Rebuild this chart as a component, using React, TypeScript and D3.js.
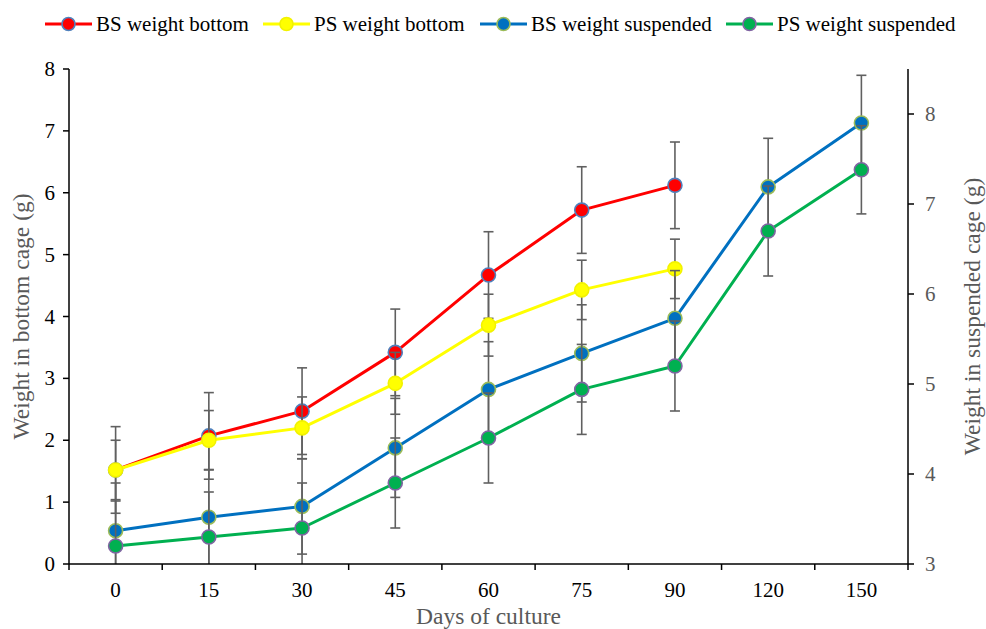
import React from "react";
import * as d3 from "d3";

const categories = ["0", "15", "30", "45", "60", "75", "90", "120", "150"];
const bsBottom = [1.52, 2.07, 2.47, 3.42, 4.67, 5.72, 6.12];
const psBottom = [1.52, 2.0, 2.2, 2.92, 3.86, 4.43, 4.77];
const bsSuspended = [3.37, 3.52, 3.64, 4.29, 4.94, 5.34, 5.73, 7.19, 7.9];
const psSuspended = [3.2, 3.3, 3.4, 3.9, 4.4, 4.94, 5.2, 6.7, 7.38];
const bsBottomErr = [0.7, 0.7, 0.7, 0.7, 0.7, 0.7, 0.7];
const psBottomErr = [0.48, 0.48, 0.5, 0.5, 0.5, 0.48, 0.48];
const bsSuspendedErr = [0.53, 0.53, 0.53, 0.55, 0.53, 0.54, 0.53, 0.54, 0.53];
const psSuspendedErr = [0.5, 0.5, 0.5, 0.5, 0.5, 0.5, 0.5, 0.5, 0.49];
const leftTicks = [0, 1, 2, 3, 4, 5, 6, 7, 8];
const rightTicks = [3, 4, 5, 6, 7, 8];

const W = 986;
const H = 629;
const left = 69;
const right = 908;
const top = 69;
const bottom = 564;
const FONT = "Liberation Serif, DejaVu Serif, Times New Roman, serif";
const GREY = "#595959";

type Series = {
  name: string;
  values: number[];
  err: number[];
  axis: "left" | "right";
  line: string;
  fill: string;
  stroke: string;
};

const series: Series[] = [
  { name: "BS weight bottom", values: bsBottom, err: bsBottomErr, axis: "left", line: "#FF0000", fill: "#FF0000", stroke: "#4F81BD" },
  { name: "PS weight bottom", values: psBottom, err: psBottomErr, axis: "left", line: "#FFFF00", fill: "#FFFF00", stroke: "#F2F200" },
  { name: "BS weight suspended", values: bsSuspended, err: bsSuspendedErr, axis: "right", line: "#0070C0", fill: "#0070C0", stroke: "#9BBB59" },
  { name: "PS weight suspended", values: psSuspended, err: psSuspendedErr, axis: "right", line: "#00B050", fill: "#00B050", stroke: "#8064A2" },
];

const legendStarts = [45, 263, 480, 726];

export default function App() {
  const x = d3.scaleBand<string>().domain(categories).range([left, right]).paddingInner(0).paddingOuter(0);
  const cx = (c: string) => (x(c) ?? 0) + x.bandwidth() / 2;
  const yL = d3.scaleLinear().domain([0, 8]).range([bottom, top]);
  const yR = d3.scaleLinear().domain([3, 8.5]).range([bottom, top]);

  const boundaries = categories.slice(1).map((c) => x(c) ?? 0);

  return (
    <svg width={W} height={H} style={{ position: "absolute", left: 0, top: 0, background: "#fff", fontFamily: FONT }}>
      <defs>
        <clipPath id="plotClip">
          <rect x={left} y={top - 10} width={right - left} height={bottom - top + 10} />
        </clipPath>
      </defs>

      {/* series */}
      {series.map((s, si) => {
        const y = s.axis === "left" ? yL : yR;
        const pts = s.values.map((v, i) => [cx(categories[i]), y(v)] as [number, number]);
        const lineGen = d3.line();
        return (
          <g key={si}>
            <path d={lineGen(pts) ?? ""} fill="none" stroke={s.line} strokeWidth={3} strokeLinejoin="round" />
            <g clipPath="url(#plotClip)">
              {s.values.map((v, i) => {
                const px = cx(categories[i]);
                const y1 = y(v + s.err[i]);
                const y2 = y(v - s.err[i]);
                return (
                  <g key={i} stroke="#606060" strokeWidth={1.6}>
                    <line x1={px} x2={px} y1={y1} y2={y2} />
                    <line x1={px - 5} x2={px + 5} y1={y1} y2={y1} />
                    <line x1={px - 5} x2={px + 5} y1={y2} y2={y2} />
                  </g>
                );
              })}
            </g>
            {pts.map((p, i) => (
              <circle key={i} cx={p[0]} cy={p[1]} r={7} fill={s.fill} stroke={s.stroke} strokeWidth={1.6} />
            ))}
          </g>
        );
      })}

      {/* x axis */}
      <line x1={left} x2={right} y1={bottom} y2={bottom} stroke="#000" strokeWidth={1.5} />
      {boundaries.map((b, i) => (
        <line key={i} x1={b} x2={b} y1={bottom} y2={bottom + 6} stroke="#000" strokeWidth={1.5} />
      ))}
      {categories.map((c) => (
        <text key={c} x={cx(c)} y={597} textAnchor="middle" fontSize={21} fill="#000" style={{ fontFamily: FONT }}>
          {c}
        </text>
      ))}
      <text x={(left + right) / 2} y={624} textAnchor="middle" fontSize={23.5} fill={GREY} style={{ fontFamily: FONT }}>
        Days of culture
      </text>

      {/* left axis */}
      <line x1={left} x2={left} y1={top} y2={bottom + 6} stroke="#000" strokeWidth={1.5} />
      {leftTicks.map((t) => (
        <g key={t}>
          <line x1={left - 6} x2={left} y1={yL(t)} y2={yL(t)} stroke="#000" strokeWidth={1.5} />
          <text x={left - 14} y={yL(t) + 7} textAnchor="end" fontSize={21} fill="#000" style={{ fontFamily: FONT }}>
            {t}
          </text>
        </g>
      ))}
      <text transform={`translate(29,${(top + bottom) / 2}) rotate(-90)`} textAnchor="middle" fontSize={23.5} fill={GREY} style={{ fontFamily: FONT }}>
        Weight in bottom cage (g)
      </text>

      {/* right axis */}
      <line x1={right} x2={right} y1={top} y2={bottom + 6} stroke="#000" strokeWidth={1.5} />
      {rightTicks.map((t) => (
        <g key={t}>
          <line x1={right} x2={right + 6} y1={yR(t)} y2={yR(t)} stroke="#000" strokeWidth={1.5} />
          <text x={right + 17} y={yR(t) + 7} textAnchor="start" fontSize={21} fill={GREY} style={{ fontFamily: FONT }}>
            {t}
          </text>
        </g>
      ))}
      <text transform={`translate(980,${(top + bottom) / 2}) rotate(-90)`} textAnchor="middle" fontSize={23.5} fill={GREY} style={{ fontFamily: FONT }}>
        Weight in suspended cage (g)
      </text>

      {/* legend */}
      {series.map((s, i) => {
        const x0 = legendStarts[i];
        return (
          <g key={i}>
            <line x1={x0} x2={x0 + 47} y1={24} y2={24} stroke={s.line} strokeWidth={3} />
            <circle cx={x0 + 23.5} cy={24} r={6.5} fill={s.fill} stroke={s.stroke} strokeWidth={1.6} />
            <text x={x0 + 51} y={31} fontSize={21} fill="#000" style={{ fontFamily: FONT }}>
              {s.name}
            </text>
          </g>
        );
      })}
    </svg>
  );
}
